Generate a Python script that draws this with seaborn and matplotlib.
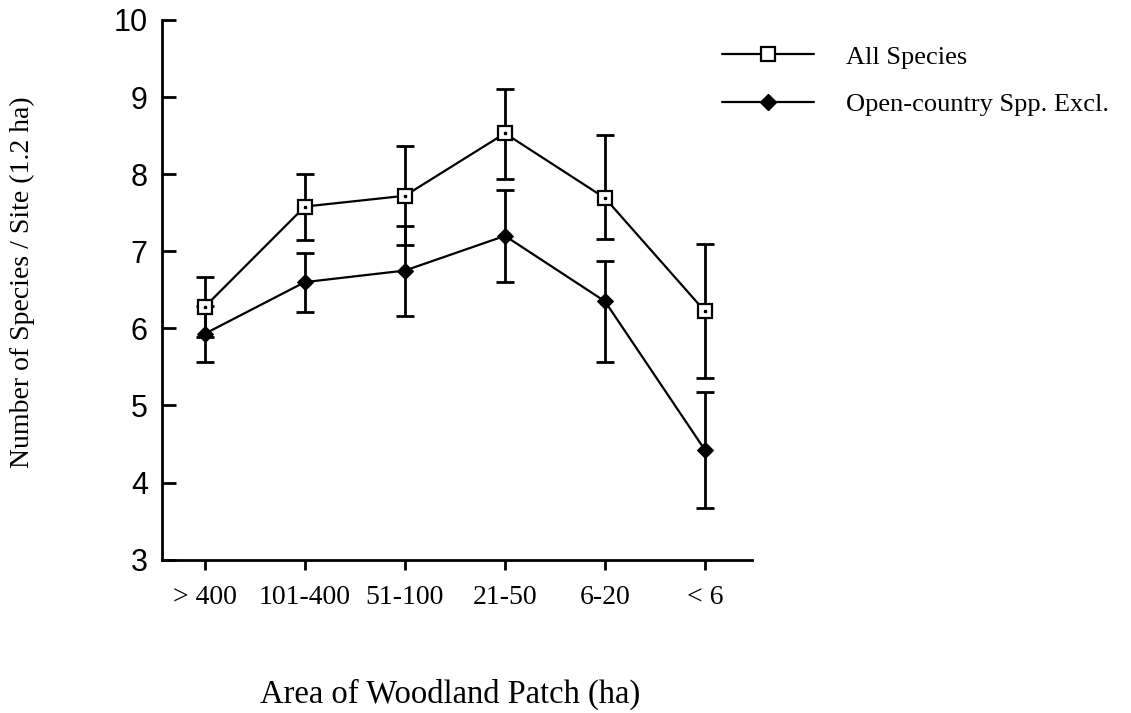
import numpy as np
import pandas as pd
import matplotlib
matplotlib.use('Agg')
import matplotlib.pyplot as plt
from matplotlib.lines import Line2D
import seaborn as sns

# values
areas = ['> 400', '101-400', '51-100', '21-50', '6-20', '< 6']
all_mean = [6.28, 7.58, 7.72, 8.53, 7.69, 6.22]
all_hi   = [6.67, 8.00, 8.36, 9.11, 8.51, 7.10]
all_lo   = [5.89, 7.14, 7.08, 7.94, 7.16, 5.36]
open_mean = [5.93, 6.60, 6.75, 7.20, 6.35, 4.42]
open_hi   = [6.29, 6.98, 7.33, 7.80, 6.88, 5.17]
open_lo   = [5.57, 6.21, 6.16, 6.60, 5.57, 3.67]
series_names = ['All Species', 'Open-country Spp. Excl.']

sns.set_theme(style='ticks')
plt.rcParams['font.family'] = ['Liberation Serif', 'DejaVu Serif']
plt.rcParams['text.color'] = 'black'
plt.rcParams['axes.labelcolor'] = 'black'
plt.rcParams['xtick.color'] = 'black'
plt.rcParams['ytick.color'] = 'black'

df = pd.DataFrame({
    'x': list(range(len(areas))) * 2,
    'value': all_mean + open_mean,
    'series': [series_names[0]] * len(areas) + [series_names[1]] * len(areas),
})

fig = plt.figure(figsize=(11.31, 7.13), dpi=100)
ax = fig.add_axes([0.143, 0.215, 0.522, 0.757])

# error bars first so the markers sit on top
for mean, hi, lo in [(all_mean, all_hi, all_lo), (open_mean, open_hi, open_lo)]:
    m = np.array(mean)
    yerr = np.vstack([m - np.array(lo), np.array(hi) - m])
    ax.errorbar(range(len(areas)), m, yerr=yerr, fmt='none', ecolor='black',
                elinewidth=2.0, capsize=6.5, capthick=2.0, zorder=1)

sns.lineplot(data=df, x='x', y='value', hue='series', style='series',
             markers={series_names[0]: 's', series_names[1]: 'D'},
             dashes=False, palette=['black', 'black'], linewidth=1.6,
             markersize=8, ax=ax, zorder=3, legend=False)
lines = ax.get_lines()[-2:]
lines[0].set_markerfacecolor('white')
lines[0].set_markeredgecolor('black')
lines[0].set_markeredgewidth(1.6)
lines[0].set_markersize(9.5)
lines[1].set_markerfacecolor('black')
lines[1].set_markeredgecolor('black')
lines[1].set_markersize(8.5)
# small dot inside the open squares
ax.plot(range(len(areas)), all_mean, ls='none', marker='s', ms=2,
        color='black', zorder=4)

ax.set_xlim(-0.43, 5.47)
ax.set_ylim(3, 10)
ax.set_xticks(range(len(areas)))
ax.set_xticklabels(areas, fontsize=20)
ax.set_yticks(range(3, 11))
ax.set_yticklabels([str(v) for v in range(3, 11)], fontsize=22,
                   family=['Liberation Sans', 'DejaVu Sans'])
ax.tick_params(axis='y', direction='in', length=10, width=2, pad=10)
ax.tick_params(axis='x', direction='out', length=7, width=2, pad=11)
sns.despine(ax=ax)
for s in ['left', 'bottom']:
    ax.spines[s].set_linewidth(2)
    ax.spines[s].set_color('black')

ax.set_xlabel('Area of Woodland Patch (ha)', fontsize=23.5)
ax.xaxis.set_label_coords(0.488, -0.22)
ax.set_ylabel('Number of Species / Site (1.2 ha)', fontsize=20)
ax.yaxis.set_label_coords(-0.215, 0.515)

# legend outside on the right
handles = [
    Line2D([], [], color='black', lw=1.6, marker='s', ms=9.5,
           mfc='white', mec='black', mew=1.6),
    Line2D([], [], color='black', lw=1.6, marker='D', ms=8.5,
           mfc='black', mec='black'),
]
fig.legend(handles, series_names, loc='upper left',
           bbox_to_anchor=(0.617, 0.97), frameon=False, fontsize=19,
           handlelength=3.5, handletextpad=1.2, labelspacing=0.9)

fig.savefig('out.png', dpi=100)
